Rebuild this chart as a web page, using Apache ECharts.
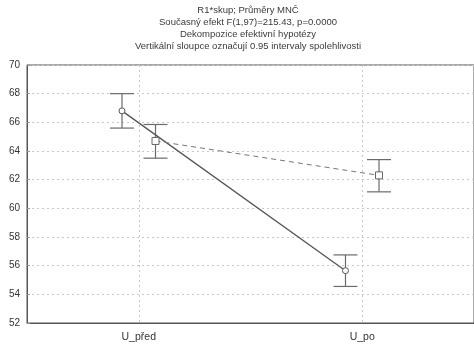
<!DOCTYPE html>
<html>
<head>
<meta charset="utf-8">
<script src="https://cdn.jsdelivr.net/npm/echarts@6/dist/echarts.min.js"></script>
<style>html,body{margin:0;padding:0;background:#fff}#c{width:474px;height:348px}</style>
</head>
<body>
<div id="c"></div>
<script>
const titleLines = ["R1*skup; Průměry MNČ", "Současný efekt F(1,97)=215.43, p=0.0000", "Dekompozice efektivní hypotézy", "Vertikální sloupce označují 0.95 intervaly spolehlivosti"];
const categories = ["U_před", "U_po"];
const yTicks = [52, 54, 56, 58, 60, 62, 64, 66, 68, 70];
// series 1 (solid line, circles)
const meansA = [66.8, 55.65];
const lowA = [65.6, 54.55];
const highA = [68.0, 56.75];
// series 2 (dashed line, squares)
const meansB = [64.7, 62.3];
const lowB = [63.5, 61.15];
const highB = [65.85, 63.4];

const catSlots = ["", categories[0], "", categories[1], ""];
const catIndex = [1, 3];
const shift = 0.15;
const xA = catIndex.map(i => i - shift);
const xB = catIndex.map(i => i + shift);

function errItem(xs, lo, hi) { return xs.map((x, i) => [x, lo[i], hi[i]]); }
function errRender(params, api) {
  const x = api.value(0);
  const p1 = api.coord([x, api.value(1)]);
  const p2 = api.coord([x, api.value(2)]);
  const hw = 12;
  const st = { stroke: '#6a6a6a', lineWidth: 1.2 };
  return { type: 'group', children: [
    { type: 'line', shape: { x1: p1[0], y1: p1[1], x2: p2[0], y2: p2[1] }, style: st },
    { type: 'line', shape: { x1: p1[0]-hw, y1: p1[1], x2: p1[0]+hw, y2: p1[1] }, style: st },
    { type: 'line', shape: { x1: p2[0]-hw, y1: p2[1], x2: p2[0]+hw, y2: p2[1] }, style: st }
  ]};
}

const chart = echarts.init(document.getElementById('c'), null, { renderer: 'canvas' });
chart.setOption({
  backgroundColor: '#ffffff',
  animation: false,
  textStyle: { fontFamily: 'Liberation Sans, Arial, sans-serif' },
  title: {
    text: titleLines.join('\n'),
    left: 243, top: 0, textAlign: 'center',
    textStyle: { fontSize: 9.5, fontWeight: 'normal', color: '#3a3a3a', lineHeight: 11.7, fontFamily: 'Liberation Sans, Arial, sans-serif' }
  },
  grid: { left: 27, top: 65, width: 452, height: 258, show: true, borderColor: '#555', borderWidth: 1, backgroundColor: 'transparent' },
  xAxis: [
    {
      type: 'category', data: catSlots, boundaryGap: false,
      axisLine: { show: true, lineStyle: { color: '#555', width: 1 } },
      axisTick: { show: false },
      axisLabel: { interval: (i) => catIndex.includes(i), color: '#333', fontSize: 10.5, margin: 9 },
      splitLine: { show: true, interval: (i) => catIndex.includes(i), lineStyle: { color: '#c8c8c8', type: [2, 3], width: 1 } }
    },
    { type: 'value', min: 0, max: 4, show: false, position: 'bottom' }
  ],
  yAxis: {
    type: 'value', min: yTicks[0], max: yTicks[yTicks.length - 1], interval: 2,
    axisLine: { show: true, lineStyle: { color: '#555' } },
    axisTick: { show: true, inside: true, length: 3, lineStyle: { color: '#999' } },
    axisLabel: { color: '#333', fontSize: 10, margin: 7 },
    splitLine: { show: true, lineStyle: { color: '#c8c8c8', type: [2, 3], width: 1 } }
  },
  series: [
    { type: 'custom', xAxisIndex: 1, renderItem: errRender, data: errItem(xA, lowA, highA), z: 3 },
    { type: 'custom', xAxisIndex: 1, renderItem: errRender, data: errItem(xB, lowB, highB), z: 3 },
    { type: 'line', xAxisIndex: 1, data: xA.map((x, i) => [x, meansA[i]]), symbol: 'circle', symbolSize: 6,
      lineStyle: { color: '#555', width: 1.3 }, itemStyle: { color: '#fff', borderColor: '#555', borderWidth: 1 }, z: 4 },
    { type: 'line', xAxisIndex: 1, data: xB.map((x, i) => [x, meansB[i]]), symbol: 'rect', symbolSize: 7,
      lineStyle: { color: '#777', width: 1, type: [5, 4] }, itemStyle: { color: '#fff', borderColor: '#666', borderWidth: 1 }, z: 4 }
  ]
});
</script>
</body>
</html>
